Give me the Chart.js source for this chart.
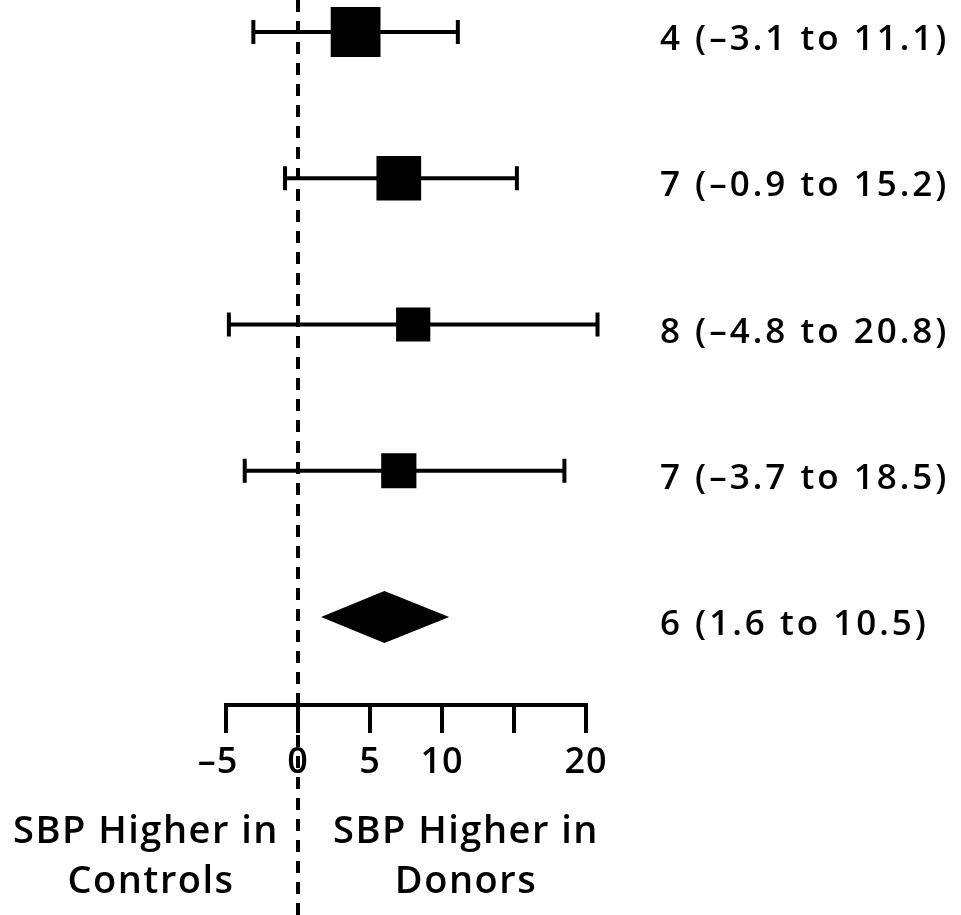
<!DOCTYPE html>
<html>
<head>
    <script src="https://cdn.jsdelivr.net/npm/chart.js"></script>
    <style>
        html, body { margin: 0; padding: 0; background: #fff; }
        .chart-container { position: relative; width: 961px; height: 915px; }
    </style>
</head>
<body>
    <div class="chart-container">
        <canvas id="forestChart"></canvas>
    </div>
    <script type="text/javascript">
        // study rows (top to bottom), then the pooled estimate
        var estimates = [4, 7, 8, 7];
        var lowerCI = [-3.1, -0.9, -4.8, -3.7];
        var upperCI = [11.1, 15.2, 20.8, 18.5];
        var weights = [36, 29, 17, 18]; // relative study weight (box area)
        var pooled = { est: 6, lo: 1.6, hi: 10.5 };
        var rowLabels = ['4 (\u20133.1 to 11.1)', '7 (\u20130.9 to 15.2)', '8 (\u20134.8 to 20.8)', '7 (\u20133.7 to 18.5)', '6 (1.6 to 10.5)'];
        var tickValues = [-5, 0, 5, 10, 15, 20];
        var tickLabels = ['\u20135', '0', '5', '10', '', '20'];
        var leftCaption = ['SBP Higher in', 'Controls'];
        var rightCaption = ['SBP Higher in', 'Donors'];

        var FONT = '"Open Sans", "DejaVu Sans", sans-serif';

        var datasets = [];
        // whiskers with end caps
        estimates.forEach(function (e, i) {
            datasets.push({
                type: 'line',
                data: [{ x: lowerCI[i], y: i }, { x: upperCI[i], y: i }],
                borderColor: '#000',
                borderWidth: 4,
                pointStyle: 'line',
                rotation: 90,
                pointRadius: 12,
                pointBorderWidth: 4,
                pointBorderColor: '#000',
                showLine: true,
                order: 2
            });
        });
        // boxes sized by weight
        datasets.push({
            type: 'scatter',
            data: estimates.map(function (e, i) { return { x: e, y: i }; }),
            pointStyle: 'rect',
            pointRadius: weights.map(function (w) { return 8.3 * Math.sqrt(w) / Math.SQRT2; }),
            backgroundColor: '#000',
            borderColor: '#000',
            borderWidth: 0,
            order: 1
        });

        var forestDecor = {
            id: 'forestDecor',
            beforeDatasetsDraw: function (chart) {
                var ctx = chart.ctx, xs = chart.scales.x;
                var x0 = xs.getPixelForValue(0);
                ctx.save();
                // dashed line of no effect
                ctx.strokeStyle = '#000';
                ctx.lineWidth = 4;
                ctx.setLineDash([12, 9]);
                ctx.beginPath();
                ctx.moveTo(x0, 0);
                ctx.lineTo(x0, chart.height);
                ctx.stroke();
                ctx.restore();
            },
            afterDatasetsDraw: function (chart) {
                var ctx = chart.ctx, xs = chart.scales.x, ys = chart.scales.y;
                ctx.save();
                // pooled diamond
                var py = ys.getPixelForValue(estimates.length);
                ctx.fillStyle = '#000';
                ctx.beginPath();
                ctx.moveTo(xs.getPixelForValue(pooled.lo), py);
                ctx.lineTo(xs.getPixelForValue(pooled.est), py - 26);
                ctx.lineTo(xs.getPixelForValue(pooled.hi), py);
                ctx.lineTo(xs.getPixelForValue(pooled.est), py + 26);
                ctx.closePath();
                ctx.fill();

                // estimate labels on the right
                ctx.font = '600 35px ' + FONT;
                ctx.letterSpacing = '3px';
                ctx.textAlign = 'left';
                ctx.textBaseline = 'alphabetic';
                rowLabels.forEach(function (t, i) {
                    ctx.fillText(t, 660, ys.getPixelForValue(i) + 18);
                });

                // x axis (only from -5 to 20)
                var axisY = ys.getPixelForValue(estimates.length) + 88;
                var first = xs.getPixelForValue(tickValues[0]);
                var last = xs.getPixelForValue(tickValues[tickValues.length - 1]);
                ctx.lineWidth = 4;
                ctx.lineCap = 'butt';
                ctx.beginPath();
                ctx.moveTo(first - 2, axisY);
                ctx.lineTo(last + 2, axisY);
                tickValues.forEach(function (v) {
                    var px = xs.getPixelForValue(v);
                    ctx.moveTo(px, axisY);
                    ctx.lineTo(px, axisY + 28);
                });
                ctx.stroke();
                ctx.textAlign = 'center';
                ctx.font = '600 36px ' + FONT;
                ctx.letterSpacing = '1px';
                tickValues.forEach(function (v, i) {
                    var px = xs.getPixelForValue(v);
                    var t = tickLabels[i];
                    if (t.charAt(0) === '\u2013') px -= 8;
                    ctx.fillText(t, px, axisY + 68);
                });

                // direction captions
                var x0 = xs.getPixelForValue(0);
                ctx.font = '600 38px ' + FONT;
                ctx.letterSpacing = '1.5px';
                ctx.fillText(leftCaption[0], x0 - 152, axisY + 138);
                ctx.fillText(leftCaption[1], x0 - 147, axisY + 188);
                ctx.fillText(rightCaption[0], x0 + 168, axisY + 138);
                ctx.fillText(rightCaption[1], x0 + 168, axisY + 188);
                ctx.restore();
            }
        };

        var ctx = document.getElementById('forestChart').getContext('2d');
        var chart = new Chart(ctx, {
            type: 'scatter',
            data: { datasets: datasets },
            options: {
                responsive: true,
                maintainAspectRatio: false,
                animation: false,
                layout: { padding: 0, autoPadding: false },
                plugins: {
                    legend: { display: false },
                    tooltip: { enabled: false }
                },
                scales: {
                    x: {
                        type: 'linear',
                        min: -298 / 14.4,
                        max: (961 - 298) / 14.4,
                        display: false
                    },
                    y: {
                        type: 'linear',
                        reverse: true,
                        min: -32 / 146.25,
                        max: (915 - 32) / 146.25,
                        display: false
                    }
                }
            },
            plugins: [forestDecor]
        });
    </script>
</body>
</html>
